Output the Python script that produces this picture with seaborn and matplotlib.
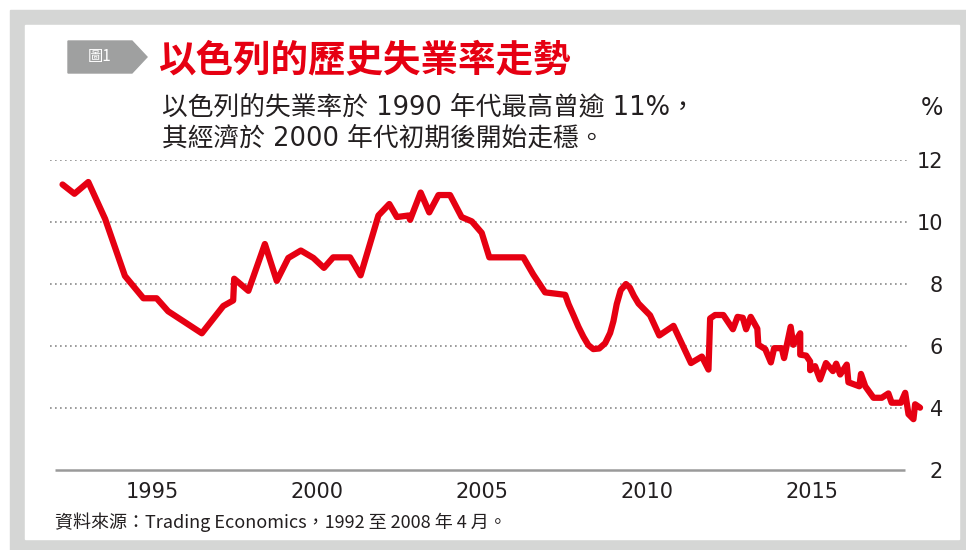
import pandas as pd
import matplotlib
matplotlib.use('Agg')
import matplotlib.pyplot as plt
import seaborn as sns
from matplotlib.patches import Rectangle, Polygon

# unemployment rate (%)
years = [1992.29, 1992.65, 1993.07, 1993.58, 1994.18, 1994.74, 1995.14, 1995.49, 1996.51, 1997.16,
         1997.46, 1997.49, 1997.92, 1998.42, 1998.78, 1999.13, 1999.51, 1999.89, 2000.21, 2000.49,
         2001.0, 2001.32, 2001.86, 2002.19, 2002.42, 2002.77, 2002.82, 2003.14, 2003.40, 2003.68,
         2004.03, 2004.38, 2004.69, 2004.99, 2005.22, 2006.25, 2006.55, 2006.91, 2007.52, 2007.62,
         2007.77, 2007.92, 2008.07, 2008.22, 2008.37, 2008.55, 2008.73, 2008.88, 2008.98, 2009.08,
         2009.2, 2009.36, 2009.48, 2009.6, 2009.74, 2010.09, 2010.37, 2010.8, 2011.33, 2011.66,
         2011.86, 2011.91, 2012.06, 2012.31, 2012.60, 2012.74, 2012.90, 2013.0, 2013.14, 2013.34,
         2013.37, 2013.58, 2013.75, 2013.85, 2014.08, 2014.15, 2014.35, 2014.43, 2014.64, 2014.64,
         2014.82, 2014.94, 2014.94, 2015.09, 2015.24, 2015.42, 2015.63, 2015.73, 2015.85, 2016.05,
         2016.10, 2016.43, 2016.48, 2016.61, 2016.86, 2017.11, 2017.31, 2017.41, 2017.69, 2017.82,
         2017.92, 2018.07, 2018.12, 2018.27]
rates = [11.21, 10.91, 11.29, 10.1, 8.26, 7.54, 7.54, 7.12, 6.41, 7.29,
         7.47, 8.17, 7.78, 9.29, 8.1, 8.84, 9.08, 8.84, 8.52, 8.86,
         8.86, 8.28, 10.21, 10.58, 10.16, 10.21, 10.07, 10.95, 10.31, 10.87,
         10.87, 10.16, 10.02, 9.65, 8.86, 8.86, 8.31, 7.73, 7.65, 7.35,
         6.99, 6.62, 6.30, 6.03, 5.9, 5.92, 6.09, 6.42, 6.8, 7.35,
         7.8, 8.0, 7.88, 7.62, 7.37, 6.99, 6.34, 6.65, 5.45, 5.66,
         5.24, 6.89, 7.0, 7.0, 6.54, 6.94, 6.91, 6.54, 6.94, 6.56,
         6.04, 5.9, 5.47, 5.93, 5.93, 5.61, 6.62, 6.04, 6.41, 5.72,
         5.69, 5.5, 5.22, 5.35, 4.92, 5.45, 5.19, 5.43, 5.08, 5.4,
         4.83, 4.7, 5.1, 4.7, 4.33, 4.33, 4.47, 4.17, 4.17, 4.49,
         3.8, 3.64, 4.12, 4.01]
x_ticks = [1995, 2000, 2005, 2010, 2015]
y_ticks = [2, 4, 6, 8, 10, 12]
grid_vals = [4, 6, 8, 10, 12]

title = '以色列的歷史失業率走勢'
sub1 = '以色列的失業率於 1990 年代最高曾逾 11%，'
sub2 = '其經濟於 2000 年代初期後開始走穩。'
source = '資料來源：Trading Economics，1992 至 2008 年 4 月。'

df = pd.DataFrame({'year': years, 'rate': rates})

sns.set_theme(style='white')
plt.rcParams['font.family'] = ['Noto Sans CJK TC', 'DejaVu Sans']

W, H = 966, 550
RED = '#e60012'
INK = '#231f20'
MIX = ['DejaVu Sans', 'Noto Sans CJK TC']

def fx(x):
    return x / W

def fy(y):
    return 1 - y / H

fig = plt.figure(figsize=(9.66, 5.5), dpi=100)
fig.patches.append(Rectangle((fx(10), 0), 956 / W, 540 / H, transform=fig.transFigure,
                             color='#d5d6d5', zorder=-3))
fig.patches.append(Rectangle((fx(25), fy(539)), 934 / W, 514 / H, transform=fig.transFigure,
                             color='white', zorder=-2))
tag = [(fx(68), fy(41)), (fx(132), fy(41)), (fx(147), fy(57)), (fx(132), fy(73)), (fx(68), fy(73))]
fig.patches.append(Polygon(tag, closed=True, transform=fig.transFigure, color='#9fa0a0', zorder=1))
fig.text(fx(100), fy(57), '圖1', color='white', fontsize=11, ha='center', va='center')
fig.text(fx(158), fy(60), title, color=RED, fontsize=27, fontweight='bold', va='center')
fig.text(fx(162), fy(107), sub1, color=INK, fontsize=18.5, va='center', family=MIX)
fig.text(fx(162), fy(139), sub2, color=INK, fontsize=18.5, va='center', family=MIX)
fig.text(fx(943), fy(108), '%', color=INK, fontsize=17, ha='right', va='center',
         family='DejaVu Sans')
fig.text(fx(55), fy(522), source, color=INK, fontsize=13, va='center')

x0, x1 = 1991.91, 2018.42
ax = fig.add_axes([fx(50), fy(470), 875 / W, 310 / H])
ax.patch.set_alpha(0)
ax.hlines(grid_vals, x0, 2017.88, colors='#8a8a8a', linestyles=(0, (1, 2)), lw=1.2, zorder=1)
ax.hlines(2, 1992.06, 2017.82, colors='#9a9a9a', lw=1.8, clip_on=False, zorder=1)
sns.lineplot(data=df, x='year', y='rate', estimator=None, sort=False, color=RED, lw=4.5, ax=ax,
             zorder=3)
ax.set_xlim(x0, x1)
ax.set_ylim(2, 12)
for s in ax.spines.values():
    s.set_visible(False)
ax.set_xlabel('')
ax.set_ylabel('')
ax.set_xticks(x_ticks)
ax.set_xticklabels([str(t) for t in x_ticks])
ax.yaxis.tick_right()
ax.set_yticks(y_ticks)
ax.set_yticklabels([str(t) for t in y_ticks])
ax.tick_params(axis='x', length=0, pad=9, labelsize=15, colors=INK)
ax.tick_params(axis='y', length=0, pad=13, labelsize=15, colors=INK)
for lab in ax.get_yticklabels():
    lab.set_ha('right')
for lab in ax.get_xticklabels() + ax.get_yticklabels():
    lab.set_family('DejaVu Sans')

fig.savefig('out.png', dpi=100)
